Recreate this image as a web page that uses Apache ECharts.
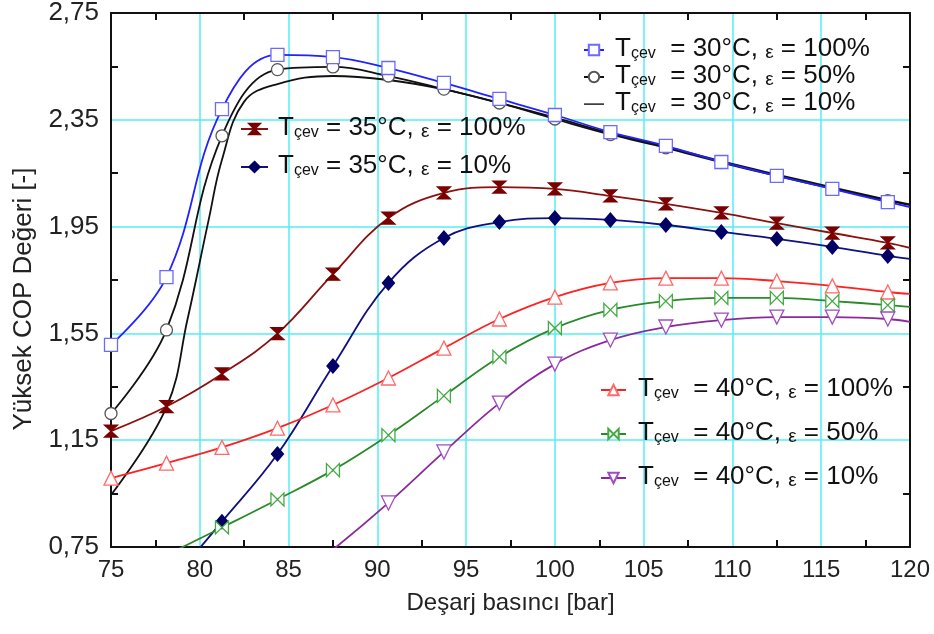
<!DOCTYPE html>
<html><head><meta charset="utf-8">
<script src="https://cdn.jsdelivr.net/npm/echarts@6/dist/echarts.min.js"></script>
<style>html,body{margin:0;padding:0;background:#fff}#c{width:934px;height:634px}</style>
</head><body><div id="c"></div>
<script>
// ---- data ----
const xMarks = [75, 78.125, 81.25, 84.375, 87.5, 90.625, 93.75, 96.875, 100, 103.125, 106.25, 109.375, 112.5, 115.625, 118.75];
const xLast = 120;

const y30e100 = [1.507, 1.761, 2.390, 2.593, 2.585, 2.544, 2.488, 2.428, 2.368, 2.304, 2.252, 2.192, 2.140, 2.091, 2.042];
const y30e100End = 2.023;
const y30e50 = [1.250, 1.563, 2.290, 2.538, 2.548, 2.514, 2.465, 2.413, 2.353, 2.295, 2.245, 2.190, 2.140, 2.092, 2.047];
const y30e50End = 2.030;
const x30e10 = [75, 78.125, 79.3, 80.5, 81.25, 82.5, 84.375, 87.5, 90.625, 93.75, 96.875, 100, 103.125, 106.25, 109.375, 112.5, 115.625, 118.75, 120];
const y30e10 = [0.945, 1.274, 1.600, 1.975, 2.200, 2.418, 2.484, 2.514, 2.499, 2.464, 2.413, 2.358, 2.300, 2.250, 2.195, 2.145, 2.097, 2.050, 2.033];

const y35e100 = [1.184, 1.276, 1.398, 1.549, 1.772, 1.982, 2.076, 2.098, 2.091, 2.065, 2.035, 2.001, 1.963, 1.926, 1.889];
const y35e100End = 1.870;
const y35e10 = [null, 0.60, 0.845, 1.098, 1.428, 1.739, 1.907, 1.967, 1.982, 1.975, 1.956, 1.930, 1.904, 1.874, 1.840];
const y35e10End = 1.829;

const y40e100 = [1.008, 1.064, 1.123, 1.195, 1.282, 1.383, 1.495, 1.604, 1.686, 1.739, 1.757, 1.757, 1.746, 1.728, 1.705];
const y40e100End = 1.698;
const y40e50 = [null, 0.72, 0.823, 0.928, 1.038, 1.169, 1.316, 1.462, 1.570, 1.638, 1.671, 1.683, 1.683, 1.671, 1.656];
const y40e50End = 1.649;
const y40e10 = [null, null, null, 0.58, 0.74, 0.915, 1.106, 1.289, 1.435, 1.525, 1.574, 1.600, 1.611, 1.611, 1.604];
const y40e10End = 1.593;

const xMin = 75, xMax = 120, xStep = 5;
const yMin = 0.75, yMax = 2.75, yStep = 0.4;

const xTitle = 'Deşarj basıncı [bar]';
const yTitle = 'Yüksek COP Değeri [-]';

const names = {
  a: 'Tçev = 30°C, ε = 100%', b: 'Tçev = 30°C, ε = 50%', c: 'Tçev = 30°C, ε = 10%',
  d: 'Tçev = 35°C, ε = 100%', e: 'Tçev = 35°C, ε = 10%',
  f: 'Tçev = 40°C, ε = 100%', g: 'Tçev = 40°C, ε = 50%', h: 'Tçev = 40°C, ε = 10%'
};

// ---- helpers ----
function pts(xs, ys, lastY) {
  const d = [];
  xs.forEach((x, i) => { if (ys[i] !== null) d.push([x, ys[i]]); });
  if (lastY != null) d.push({ value: [xLast, lastY], symbol: 'none' });
  return d;
}
const FONT = "'Liberation Sans', Arial, sans-serif";
const hourglass = 'path://M0,0 L10,0 L0,10 L10,10 Z';
const bowtie = 'path://M0,0 L10,10 L10,0 L0,10 Z';
const lineIcon = 'path://M0,0 L0,0 M0,5.9 L20,5.9 L20,7.3 L0,7.3 Z M20,13 L20,13';

function ser(name, data, color, symbol, size, mColor, mFill, extra) {
  return Object.assign({
    type: 'line', name, data, smooth: 0.4,
    symbol, symbolSize: size, showAllSymbol: true,
    lineStyle: { color, width: 1.8 },
    itemStyle: { color: mFill, borderColor: mColor, borderWidth: 1.3 },
    emphasis: { disabled: true }, z: 3
  }, extra || {});
}

function fmt(gap) {
  return function (name) {
    const m = name.match(/= (\d+)°C, ε = (\d+)%/);
    return '{t|T}{s|çev}{n|' + gap + '= ' + m[1] + '°C, }{e|ε}{n| = ' + m[2] + '%}';
  };
}
const rich = {
  t: { fontSize: 26, fontFamily: FONT, color: '#111', lineHeight: 24, verticalAlign: 'bottom' },
  s: { fontSize: 16, fontFamily: FONT, color: '#111', lineHeight: 10, verticalAlign: 'bottom' },
  n: { fontSize: 26, fontFamily: FONT, color: '#111', lineHeight: 24, verticalAlign: 'bottom' },
  e: { fontSize: 19, fontFamily: FONT, color: '#111', lineHeight: 17, verticalAlign: 'bottom' }
};
function legend(list, left, top, w, gap, sp, txtPad) {
  return {
    data: list, left, top, orient: 'vertical', itemWidth: w, itemHeight: 13, itemGap: gap,
    padding: 0, selectedMode: false, formatter: fmt(sp),
    textStyle: { rich, padding: [0, 0, 0, txtPad] }
  };
}

const grid = { left: 111, right: 24, top: 13, bottom: 87 };
const cyan = '#55eef2';
const tickStyle = { color: '#111', width: 2 };

const option = {
  animation: false,
  backgroundColor: '#fff',
  grid,
  legend: [
    legend([names.a, names.b, { name: names.c, icon: lineIcon, itemStyle: { borderWidth: 0 } }], 583, 36, 20, 1, '  ', 6),
    legend([names.d, names.e], 240, 115, 27, 12, ' ', 5),
    legend([names.f, names.g, names.h], 600, 376, 25, 18, '  ', 7)
  ],
  xAxis: [{
    type: 'value', min: xMin, max: xMax, interval: xStep, position: 'bottom',
    name: xTitle, nameLocation: 'middle', nameGap: 44,
    nameTextStyle: { fontSize: 24, fontFamily: FONT, color: '#222' },
    axisLine: { show: true, onZero: false, lineStyle: { color: '#111', width: 2 } },
    axisTick: { show: false, inside: true },
    minorTick: { show: true, splitNumber: 2, length: 7, lineStyle: tickStyle },
    axisLabel: { fontSize: 24, fontFamily: FONT, color: '#222', margin: 11 },
    splitLine: { show: true, lineStyle: { color: cyan, width: 1.5 } }
  }, {
    type: 'value', min: xMin, max: xMax, interval: xStep, position: 'top',
    axisLine: { show: true, onZero: false, lineStyle: { color: '#111', width: 2 } },
    axisTick: { show: false, inside: true },
    minorTick: { show: true, splitNumber: 2, length: 7, lineStyle: tickStyle },
    axisLabel: { show: false }, splitLine: { show: false }
  }],
  yAxis: [{
    type: 'value', min: yMin, max: yMax, interval: yStep, position: 'left',
    name: yTitle, nameLocation: 'middle', nameGap: 74,
    nameTextStyle: { fontSize: 26, fontFamily: FONT, color: '#222', padding: [0, 38, 0, 0] },
    axisLine: { show: true, onZero: false, lineStyle: { color: '#111', width: 2 } },
    axisTick: { show: false, inside: true },
    minorTick: { show: true, splitNumber: 2, length: 7, lineStyle: tickStyle },
    axisLabel: { fontSize: 26, fontFamily: FONT, color: '#222', margin: 12,
      formatter: v => v.toFixed(2).replace('.', ',') },
    splitLine: { show: true, lineStyle: { color: cyan, width: 1.5 } }
  }, {
    type: 'value', min: yMin, max: yMax, interval: yStep, position: 'right',
    axisLine: { show: true, onZero: false, lineStyle: { color: '#111', width: 2 } },
    axisTick: { show: false, inside: true },
    minorTick: { show: true, splitNumber: 2, length: 7, lineStyle: tickStyle },
    axisLabel: { show: false }, splitLine: { show: false }
  }],
  series: [
    ser(names.c, pts(x30e10, y30e10, null), '#111', 'none', 0, '#111', '#111'),
    ser(names.b, pts(xMarks, y30e50, y30e50End), '#111', 'circle', 12, '#555', '#fff'),
    ser(names.a, pts(xMarks, y30e100, y30e100End), '#2222ff', 'rect', 13, '#6a6aff', '#fff'),
    ser(names.d, pts(xMarks, y35e100, y35e100End), '#8b1010', hourglass, [13, 12], '#7a0000', '#7a0000'),
    ser(names.e, pts(xMarks, y35e10, y35e10End), '#101080', 'diamond', [12, 14], '#000066', '#000066'),
    ser(names.f, pts(xMarks, y40e100, y40e100End), '#ff2020', 'triangle', 14, '#ff6a6a', '#fff'),
    ser(names.g, pts(xMarks, y40e50, y40e50End), '#2a8a2a', bowtie, [13, 13], '#44aa44', '#fff'),
    ser(names.h, pts(xMarks, y40e10, y40e10End), '#8a2a9a', 'triangle', 14, '#a04cc0', '#fff', { symbolRotate: 180 })
  ]
};
const chart = echarts.init(document.getElementById('c'), null, { renderer: 'canvas' });
chart.setOption(option);
</script></body></html>
